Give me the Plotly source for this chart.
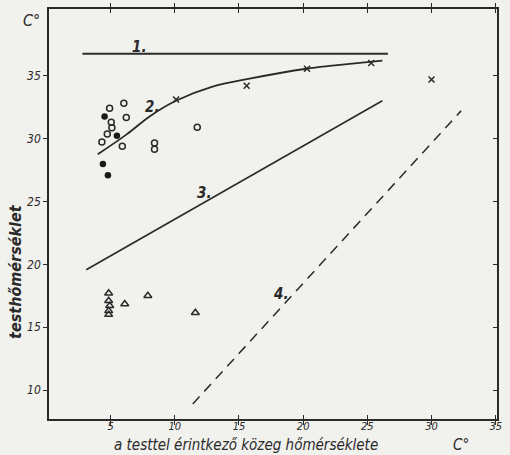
import plotly.graph_objects as go

# Line 1: constant body temperature
line1_x = [2.8, 26.6]
line1_y = [36.74, 36.74]
# Line 2: curve
line2_x = [4.0, 6.25, 8.04, 10.13, 12.94, 15.82, 20.25, 22.28, 25.39, 26.17]
line2_y = [28.75, 30.33, 31.76, 33.02, 34.13, 34.76, 35.55, 35.79, 36.11, 36.19]
# Line 3
line3_x = [3.1, 26.17]
line3_y = [19.57, 33.0]
# Line 4 (dashed)
line4_x = [11.4, 32.3]
line4_y = [8.9, 32.2]

cross_x = [10.1, 15.6, 20.3, 25.3, 30.0]
cross_y = [33.1, 34.2, 35.55, 36.0, 34.7]

open_x = [4.92, 6.03, 5.05, 6.22, 5.1, 4.74, 4.32, 5.91, 8.42, 8.42, 11.75]
open_y = [32.4, 32.8, 31.3, 31.68, 30.85, 30.36, 29.72, 29.38, 29.65, 29.15, 30.9]

filled_x = [4.53, 5.49, 4.40, 4.79]
filled_y = [31.75, 30.23, 27.98, 27.09]

tri_x = [4.85, 4.85, 4.93, 4.85, 4.85, 6.1, 7.9, 11.6]
tri_y = [17.7, 17.1, 16.7, 16.3, 16.0, 16.85, 17.5, 16.15]

line_labels = ["1.", "2.", "3.", "4."]
label_x = [7.25, 8.3, 12.3, 18.3]
label_y = [37.3, 32.5, 25.7, 17.6]

x_ticks = [5, 10, 15, 20, 25, 30, 35]
y_ticks = [10, 15, 20, 25, 30, 35]

ink = "#2a2a2a"
paper = "#f1f1ee"
fnt = "DejaVu Sans Condensed"

fig = go.Figure()
fig.add_trace(go.Scatter(x=line1_x, y=line1_y, mode="lines", line=dict(color=ink, width=2.2)))
fig.add_trace(go.Scatter(x=line2_x, y=line2_y, mode="lines", line=dict(color=ink, width=1.8, shape="spline")))
fig.add_trace(go.Scatter(x=line3_x, y=line3_y, mode="lines", line=dict(color=ink, width=1.6)))
fig.add_trace(go.Scatter(x=line4_x, y=line4_y, mode="lines", line=dict(color=ink, width=1.5, dash="10px,7px")))
fig.add_trace(go.Scatter(x=cross_x, y=cross_y, mode="markers",
                         marker=dict(symbol="x-thin-open", size=6, color=ink, line=dict(width=1.5, color=ink))))
fig.add_trace(go.Scatter(x=open_x, y=open_y, mode="markers",
                         marker=dict(symbol="circle-open", size=6, color=ink, line=dict(width=1.5, color=ink))))
fig.add_trace(go.Scatter(x=filled_x, y=filled_y, mode="markers",
                         marker=dict(symbol="circle", size=6.5, color="#1a1a1a")))
fig.add_trace(go.Scatter(x=tri_x, y=tri_y, mode="markers",
                         marker=dict(symbol="triangle-up-open", size=7, color=ink, line=dict(width=1.5, color=ink))))
# invisible trace for right axis
fig.add_trace(go.Scatter(x=[None], y=[None], yaxis="y2", showlegend=False))

for t, lx, ly in zip(line_labels, label_x, label_y):
    fig.add_annotation(x=lx, y=ly, text=t, showarrow=False,
                       font=dict(family=fnt, size=15, color=ink, style="italic", weight="bold"))

fig.add_annotation(xref="paper", yref="paper", x=-0.015, y=1.0, text="C°", showarrow=False,
                   xanchor="right", yanchor="top",
                   font=dict(family=fnt, size=16, color=ink, style="italic"))
fig.add_annotation(xref="paper", yref="paper", x=0.92, y=-0.036, text="C°", showarrow=False,
                   xanchor="center", yanchor="top",
                   font=dict(family=fnt, size=15, color=ink, style="italic"))
fig.add_annotation(xref="paper", yref="paper", x=0.44, y=-0.036, text="a testtel érintkező közeg hőmérséklete",
                   showarrow=False, xanchor="center", yanchor="top",
                   font=dict(family=fnt, size=15, color=ink, style="italic"))
fig.add_annotation(xref="paper", yref="paper", x=-0.049, y=0.36, text="testhőmérséklet",
                   showarrow=False, textangle=-90, xanchor="right", yanchor="middle",
                   font=dict(family=fnt, size=16, color=ink, style="italic", weight="bold"))

fig.update_layout(
    width=510, height=455,
    margin=dict(l=49, r=13, t=7, b=36),
    paper_bgcolor=paper, plot_bgcolor=paper,
    showlegend=False,
    xaxis=dict(range=[0.2, 35.1], tickvals=x_ticks, ticks="inside", ticklen=4, tickcolor=ink,
               showgrid=False, zeroline=False, showline=True, linecolor=ink, linewidth=1.5,
               mirror="allticks", ticklabelstandoff=-4,
               tickfont=dict(family=fnt, size=11, color=ink, style="italic")),
    yaxis=dict(range=[7.7, 40.3], tickvals=y_ticks, ticks="outside", ticklen=4, tickcolor=ink,
               showgrid=False, zeroline=False, showline=True, linecolor=ink, linewidth=1.5,
               tickfont=dict(family=fnt, size=12, color=ink, style="italic")),
    yaxis2=dict(range=[7.7, 40.3], tickvals=y_ticks, ticks="inside", ticklen=4, tickcolor=ink,
                showticklabels=False, overlaying="y", side="right", showgrid=False, zeroline=False,
                showline=True, linecolor=ink, linewidth=1.5),
)

fig.write_html("out.html", config={"displayModeBar": False},
               post_script="document.body.style.margin='0';document.body.style.background='%s';" % paper)
